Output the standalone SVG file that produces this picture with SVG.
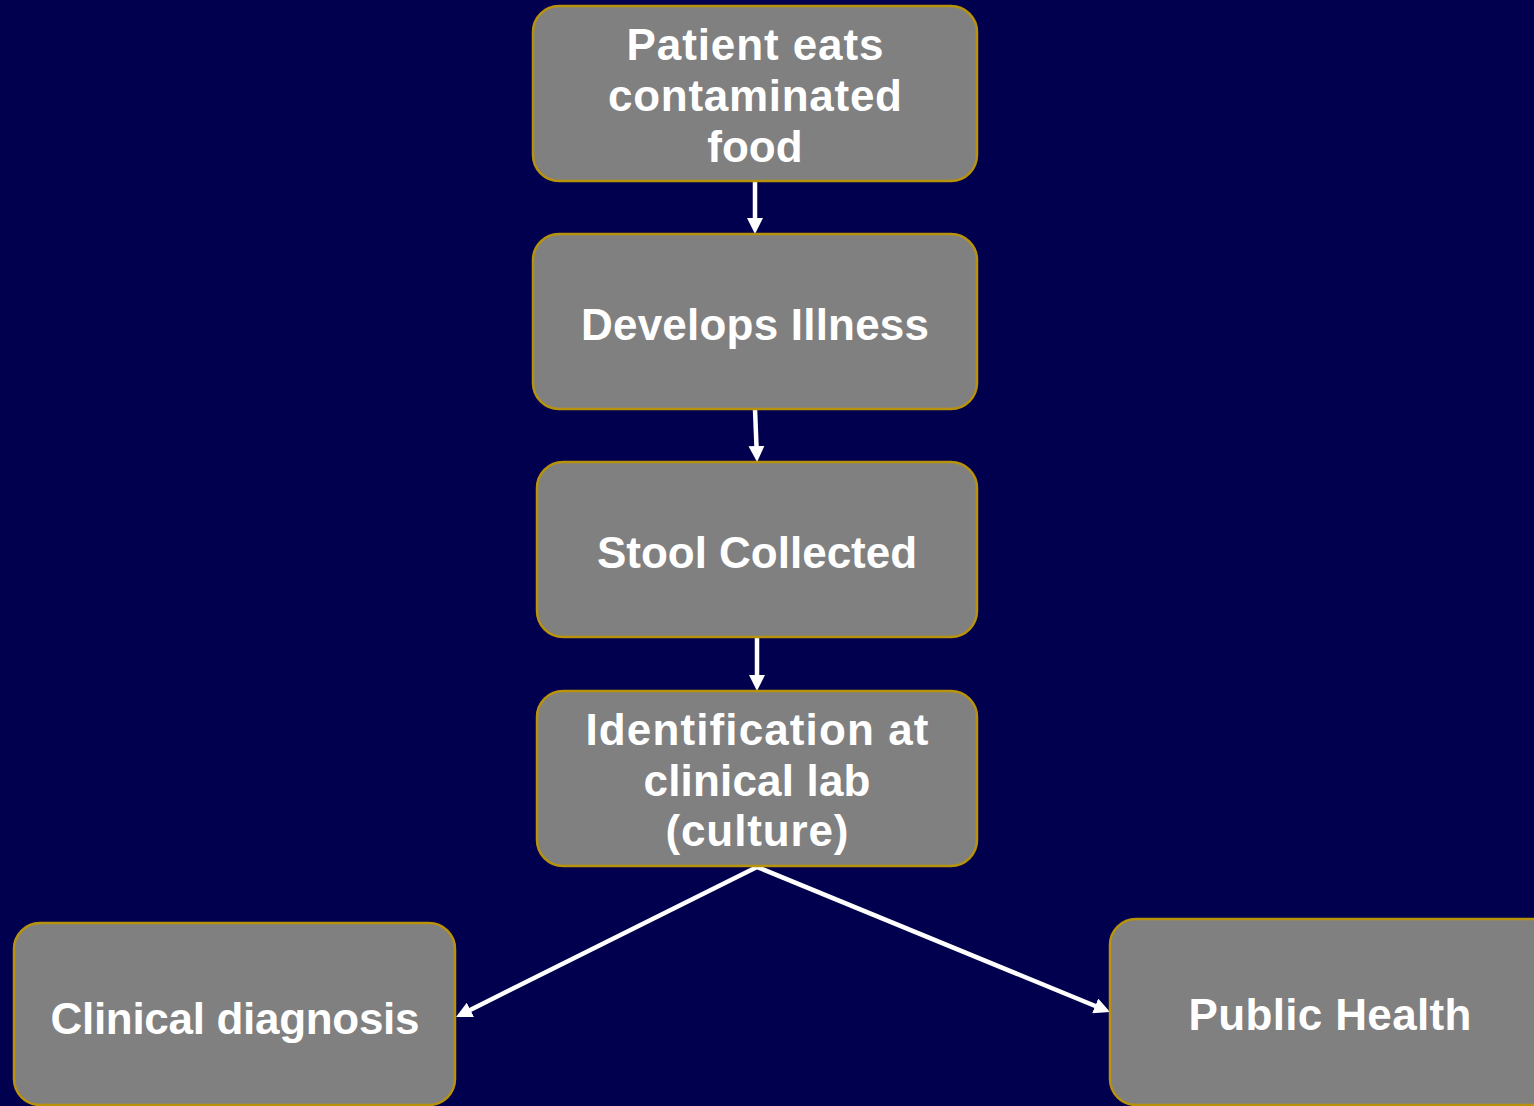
<svg xmlns="http://www.w3.org/2000/svg" width="1534" height="1106" viewBox="0 0 1534 1106">
<style>
.box{fill:#808080;stroke:#B8920A;stroke-width:2.5}
.t{font-family:"Liberation Sans",Arial,sans-serif;font-weight:bold;font-size:44px;fill:#FFFFFF;text-anchor:middle}
.c{stroke:#FFFFFF;stroke-width:4.5;fill:none}
</style>
<defs>
<marker id="ah" viewBox="0 0 16 16" refX="8" refY="8" markerWidth="16" markerHeight="16" markerUnits="userSpaceOnUse" orient="auto">
<path d="M0,0 L16,8 L0,16 z" fill="#FFFFFF"/>
</marker>
</defs>
<rect width="1534" height="1106" fill="#00004E"/>
<g id="connectors">
<line class="c" x1="755" y1="181" x2="755" y2="226" marker-end="url(#ah)"/>
<line class="c" x1="755" y1="409" x2="756.8" y2="454" marker-end="url(#ah)"/>
<line class="c" x1="757" y1="637" x2="757" y2="683" marker-end="url(#ah)"/>
<line class="c" x1="757" y1="867" x2="463.2" y2="1013.4" marker-end="url(#ah)"/>
<line class="c" x1="757" y1="867" x2="1102.6" y2="1009" marker-end="url(#ah)"/>
</g>
<g id="n1">
<rect class="box" x="533" y="6" width="444" height="175" rx="26"/>
<text class="t" x="755" y="60" textLength="257" lengthAdjust="spacing">Patient eats</text>
<text class="t" x="755" y="111" textLength="294" lengthAdjust="spacing">contaminated</text>
<text class="t" x="755" y="162">food</text>
</g>
<g id="n2">
<rect class="box" x="533" y="234" width="444" height="175" rx="26"/>
<text class="t" x="755" y="340" textLength="348" lengthAdjust="spacing">Develops Illness</text>
</g>
<g id="n3">
<rect class="box" x="537" y="462" width="440" height="175" rx="26"/>
<text class="t" x="757" y="568">Stool Collected</text>
</g>
<g id="n4">
<rect class="box" x="537" y="691" width="440" height="175" rx="26"/>
<text class="t" x="757" y="745" textLength="343" lengthAdjust="spacing">Identification at</text>
<text class="t" x="757" y="796" textLength="227" lengthAdjust="spacing">clinical lab</text>
<text class="t" x="757" y="846" textLength="183" lengthAdjust="spacing">(culture)</text>
</g>
<g id="n5">
<rect class="box" x="14" y="923" width="441" height="182" rx="26"/>
<text class="t" x="235" y="1034" textLength="369" lengthAdjust="spacing">Clinical diagnosis</text>
</g>
<g id="n6">
<rect class="box" x="1110" y="919" width="450" height="186" rx="26"/>
<text class="t" x="1330" y="1030" textLength="283" lengthAdjust="spacing">Public Health</text>
</g>
</svg>
